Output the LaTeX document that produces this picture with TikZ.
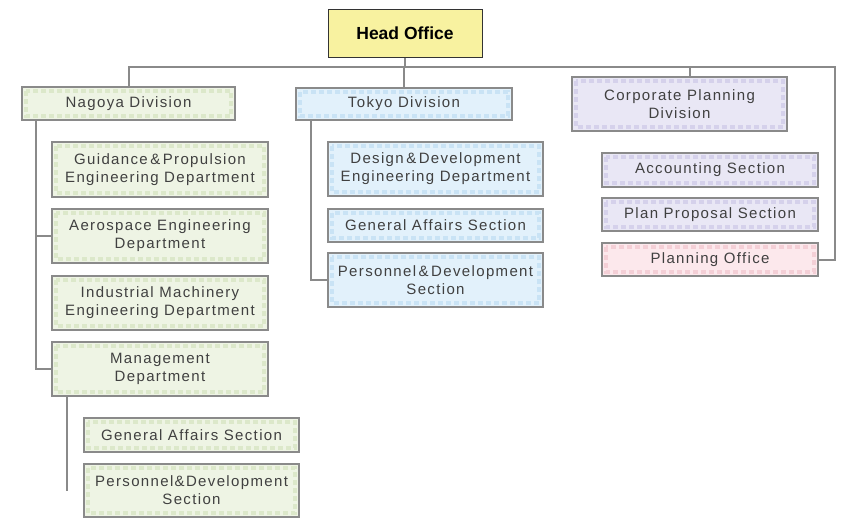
\documentclass[tikz,border=0pt]{standalone}
\usepackage{fontspec}
\setmainfont{Liberation Sans}
\newfontfamily\unitfont[LetterSpace=9]{Liberation Sans}
\usetikzlibrary{positioning}
\definecolor{headfill}{HTML}{F8F2A0}
\definecolor{ngfill}{HTML}{EEF4E4}
\definecolor{ngtile}{HTML}{DCE8CA}
\definecolor{tkfill}{HTML}{E2F1FB}
\definecolor{tktile}{HTML}{C9E3F5}
\definecolor{cpfill}{HTML}{E9E7F5}
\definecolor{cptile}{HTML}{D5D1EB}
\definecolor{pofill}{HTML}{FCE8EC}
\definecolor{potile}{HTML}{F4CFD6}
\definecolor{linkgray}{HTML}{8A8A8A}
\tikzset{
	unit/.style 2 args={draw=linkgray, line width=1.4pt, fill=#1, inner sep=0pt,
		align=center, text=black!75, font=\unitfont\fontsize{15}{18}\selectfont,
		path picture={\draw[#2, line width=3.5pt, dash pattern=on 5pt off 3pt]
			([shift={(4pt,-4pt)}]path picture bounding box.north west) rectangle
			([shift={(-4pt,4pt)}]path picture bounding box.south east);}},
	ngunit/.style={unit={ngfill}{ngtile}},
	tkunit/.style={unit={tkfill}{tktile}},
	cpunit/.style={unit={cpfill}{cptile}},
	pounit/.style={unit={pofill}{potile}},
	link/.style={draw=linkgray, line width=2pt}
}
\begin{document}
\begin{tikzpicture}[x=1pt,y=-1pt]
	\useasboundingbox (0,0) rectangle (842,530);

	\node[draw=black!80, line width=1pt, fill=headfill, minimum width=154pt, minimum height=48pt,
		font=\bfseries\fontsize{17.5}{20}\selectfont] (head) at (405,33) {Head Office};

	\node[ngunit, minimum width=213pt, minimum height=33pt] (nagoya) at (128.5,103.5) {Nagoya Division};
	\node[tkunit, minimum width=216pt, minimum height=32pt] (tokyo) at (404,104) {Tokyo Division};
	\node[cpunit, minimum width=215pt, minimum height=54pt] (corp) at (679.5,104) {Corporate Planning\\Division};

	\node[ngunit, minimum width=216pt, minimum height=55pt] (guid) at (160,169.5) {Guidance\,\&\,Propulsion\\Engineering Department};
	\node[ngunit, minimum width=216pt, minimum height=54pt] (aero) at (160,236) {Aerospace Engineering\\Department};
	\node[ngunit, minimum width=216pt, minimum height=54pt] (indus) at (160,303) {Industrial Machinery\\Engineering Department};
	\node[ngunit, minimum width=216pt, minimum height=54pt] (mgmt) at (160,369) {Management\\Department};
	\node[ngunit, minimum width=215pt, minimum height=34pt] (ngaff) at (191.5,435) {General Affairs Section};
	\node[ngunit, minimum width=215pt, minimum height=53pt] (ngpers) at (191.5,490.5) {Personnel\&Development\\Section};

	\node[tkunit, minimum width=215pt, minimum height=54pt] (design) at (435.5,169) {Design\,\&\,Development\\Engineering Department};
	\node[tkunit, minimum width=215pt, minimum height=33pt] (tkaff) at (435.5,225.5) {General Affairs Section};
	\node[tkunit, minimum width=215pt, minimum height=54pt] (tkpers) at (435.5,280) {Personnel\,\&\,Development\\Section};

	\node[cpunit, minimum width=216pt, minimum height=34pt] (acct) at (710,170) {Accounting Section};
	\node[cpunit, minimum width=216pt, minimum height=33pt] (plan) at (710,214.5) {Plan Proposal Section};
	\node[pounit, minimum width=216pt, minimum height=33pt] (office) at (710,259.5) {Planning Office};

	\coordinate (bus) at (835,67);
	\draw[link] (head.south) -- (head.south |- bus);
	\draw[link] (nagoya.north) |- (bus) |- (office.east);
	\draw[link] (tokyo.north) -- (tokyo.north |- bus);
	\draw[link] ([xshift=10pt]corp.north) -- ([xshift=10pt]corp.north |- bus);

	\coordinate (ngspine) at ([xshift=15pt]nagoya.south west);
	\draw[link] (ngspine) |- (mgmt.west);
	\draw[link] (aero.west) -- (aero.west -| ngspine);
	\coordinate (tkspine) at ([xshift=16pt]tokyo.south west);
	\draw[link] (tkspine) |- (tkpers.west);
	\coordinate (mgspine) at ([xshift=16pt]mgmt.south west);
	\draw[link] (mgspine) -- (mgspine |- ngpers.center);
\end{tikzpicture}
\end{document}
